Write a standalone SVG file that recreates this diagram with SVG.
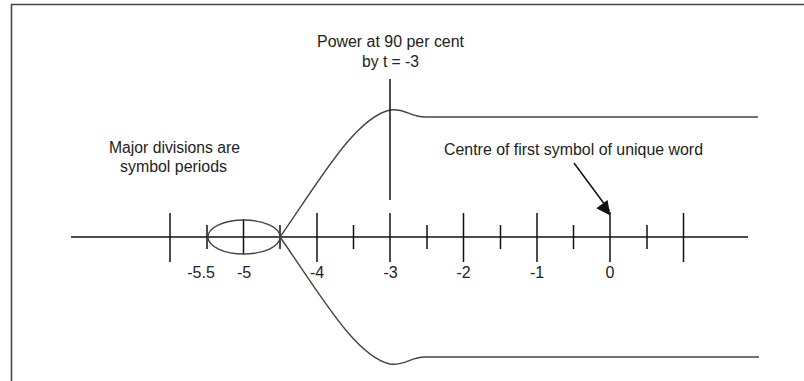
<svg xmlns="http://www.w3.org/2000/svg" width="804" height="381" viewBox="0 0 804 381">
  <style>
    .t { font-family: "Liberation Sans", Arial, sans-serif; font-size: 16px; fill: #222; }
    .m { text-anchor: middle; }
    .ax { stroke: #111; stroke-width: 1.5; fill: none; }
    .tk { stroke: #111; stroke-width: 1.5; }
    .cv { stroke: #444; stroke-width: 1.4; fill: none; }
    .fr { stroke: #444; stroke-width: 1.6; fill: none; }
  </style>
  <defs>
    <marker id="ah" viewBox="0 0 10 10" refX="10" refY="5" markerWidth="10" markerHeight="10" markerUnits="userSpaceOnUse" orient="auto" overflow="visible">
      <path d="M0,0 L10,5 L0,10 Z" fill="#111" transform="scale(1.4)" />
    </marker>
  </defs>
  <rect width="804" height="381" fill="#fff"/>
  <g id="frame">
    <path class="fr" d="M11.5,381 V4.5 H804"/>
  </g>
  <g id="axis">
    <line class="ax" x1="71" y1="237" x2="748" y2="237"/>
    <g id="ticks">
      <line class="tk" x1="170" y1="213" x2="170" y2="262"/>
      <line class="tk" x1="207" y1="225" x2="207" y2="249"/>
      <line class="tk" x1="243.5" y1="219" x2="243.5" y2="254"/>
      <line class="tk" x1="280" y1="225" x2="280" y2="249"/>
      <line class="tk" x1="317" y1="213" x2="317" y2="262"/>
      <line class="tk" x1="353.5" y1="225" x2="353.5" y2="249"/>
      <line class="tk" x1="390" y1="213" x2="390" y2="262"/>
      <line class="tk" x1="427" y1="225" x2="427" y2="249"/>
      <line class="tk" x1="463.5" y1="213" x2="463.5" y2="262"/>
      <line class="tk" x1="500.5" y1="225" x2="500.5" y2="249"/>
      <line class="tk" x1="537" y1="213" x2="537" y2="262"/>
      <line class="tk" x1="573.5" y1="225" x2="573.5" y2="249"/>
      <line class="tk" x1="610" y1="212" x2="610" y2="262"/>
      <line class="tk" x1="647" y1="225" x2="647" y2="249"/>
      <line class="tk" x1="683.5" y1="213" x2="683.5" y2="262"/>
    </g>
    <g id="tick-labels">
      <text class="t m" x="201" y="278">-5.5</text>
      <text class="t m" x="244" y="278">-5</text>
      <text class="t m" x="317" y="278">-4</text>
      <text class="t m" x="390.5" y="278">-3</text>
      <text class="t m" x="463.5" y="278">-2</text>
      <text class="t m" x="537" y="278">-1</text>
      <text class="t m" x="610" y="278">0</text>
    </g>
  </g>
  <g id="symbol-ellipse">
    <ellipse class="cv" cx="244" cy="237" rx="36" ry="17"/>
  </g>
  <g id="power-envelope">
    <path class="cv" d="M280,237 C320,180 355,118 390,110 C405,108 410,117 425,117 L758,117"/>
    <path class="cv" d="M280,237 C320,294 355,356 390,364 C405,366 410,357 425,357 L759,357"/>
  </g>
  <g id="label-power">
    <text class="t m" x="390.5" y="47" textLength="147" lengthAdjust="spacingAndGlyphs">Power at 90 per cent</text>
    <text class="t m" x="390.5" y="67" textLength="57" lengthAdjust="spacingAndGlyphs">by t = -3</text>
  </g>
  <g id="label-major">
    <text class="t m" x="174.5" y="153" textLength="131" lengthAdjust="spacingAndGlyphs">Major divisions are</text>
    <text class="t m" x="173.5" y="172" textLength="107" lengthAdjust="spacingAndGlyphs">symbol periods</text>
  </g>
  <g id="label-centre">
    <text class="t m" x="573.5" y="155" textLength="259" lengthAdjust="spacingAndGlyphs">Centre of first symbol of unique word</text>
  </g>
  <g id="connectors">
    <line class="tk" x1="390" y1="79" x2="390" y2="200"/>
    <line stroke="#111" stroke-width="1.5" x1="574" y1="163" x2="609.5" y2="211" marker-end="url(#ah)"/>
  </g>
</svg>
